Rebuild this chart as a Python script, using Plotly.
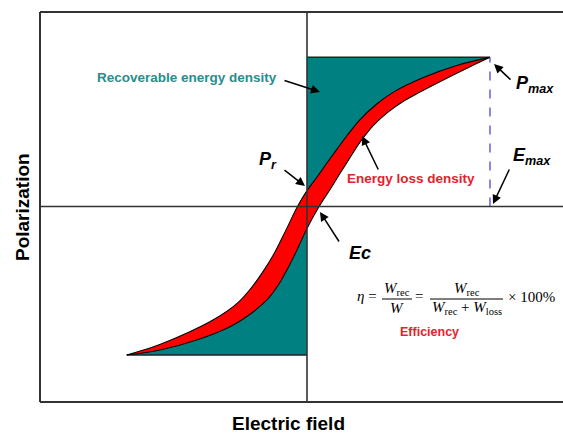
import plotly.graph_objects as go

# ---- data (E normalised to Emax=1, P normalised to Pmax=1) ----
E_MAX = 1.0
P_MAX = 1.0
E_MIN = -0.985
P_MIN = -0.995

# upper (left) boundary of the loss band, from (Emin,Pmin) to (Emax,Pmax)
curve_a_E = [-0.985, -0.842, -0.656, -0.514, -0.380, -0.301, -0.235, -0.178, -0.115, -0.052,
             0.0, 0.055, 0.109, 0.164, 0.219, 0.290, 0.381, 0.472, 0.636, 0.818, 1.0]
curve_a_P = [-0.995, -0.942, -0.848, -0.761, -0.647, -0.540, -0.426, -0.312, -0.158, 0.0,
             0.107, 0.198, 0.292, 0.385, 0.476, 0.583, 0.687, 0.767, 0.865, 0.946, 1.0]

# lower (right) boundary of the loss band
curve_b_E = [-0.985, -0.803, -0.603, -0.421, -0.293, -0.213, -0.153, -0.104, -0.055, 0.0,
             0.066, 0.126, 0.180, 0.235, 0.290, 0.362, 0.443, 0.525, 0.617, 0.745, 0.891, 1.0]
curve_b_P = [-0.995, -0.962, -0.895, -0.806, -0.705, -0.617, -0.519, -0.412, -0.292, -0.147,
             0.0, 0.114, 0.221, 0.328, 0.432, 0.543, 0.633, 0.704, 0.767, 0.848, 0.937, 1.0]

x_range = [-1.459, 1.399]
y_range = [-1.310, 1.304]

TEAL = "#008080"
RED = "#ff0000"
TEAL_TXT = "#2b8c8c"
RED_TXT = "#e3222b"
AX = "#333333"
SANS = "Liberation Sans, Arial, sans-serif"
SERIF = "Liberation Serif, Times New Roman, serif"

W, H = 563, 435
ML, MR, MT, MB = 40, 0, 12, 33


def px(x, y):
    """pixel position -> data coordinates (for placing annotations only)"""
    fx = (x - ML) / (W - ML - MR)
    fy = (H - MB - y) / (H - MT - MB)
    return (x_range[0] + fx * (x_range[1] - x_range[0]),
            y_range[0] + fy * (y_range[1] - y_range[0]))


fig = go.Figure()

# top recoverable area: top edge, then curve A (E>=0) filled to it
a_pos = [i for i, e in enumerate(curve_a_E) if e >= 0]
fig.add_trace(go.Scatter(x=[0, E_MAX], y=[P_MAX, P_MAX], mode="lines",
                         line=dict(color="#222222", width=1.5), hoverinfo="skip"))
fig.add_trace(go.Scatter(x=[curve_a_E[i] for i in a_pos], y=[curve_a_P[i] for i in a_pos],
                         mode="lines", line=dict(width=0, shape="spline"),
                         fill="tonexty", fillcolor=TEAL, hoverinfo="skip"))

# bottom recoverable area
b_neg = [i for i, e in enumerate(curve_b_E) if e <= 0]
fig.add_trace(go.Scatter(x=[E_MIN, 0], y=[P_MIN, P_MIN], mode="lines",
                         line=dict(color="#222222", width=1.5), hoverinfo="skip"))
fig.add_trace(go.Scatter(x=[curve_b_E[i] for i in b_neg], y=[curve_b_P[i] for i in b_neg],
                         mode="lines", line=dict(width=0, shape="spline"),
                         fill="tonexty", fillcolor=TEAL, hoverinfo="skip"))

# loss band
fig.add_trace(go.Scatter(x=curve_a_E, y=curve_a_P, mode="lines",
                         line=dict(color="black", width=1.1, shape="spline"), hoverinfo="skip"))
fig.add_trace(go.Scatter(x=curve_b_E, y=curve_b_P, mode="lines",
                         line=dict(color="black", width=1.1, shape="spline"),
                         fill="tonexty", fillcolor=RED, hoverinfo="skip"))

# dashed Emax line
fig.add_trace(go.Scatter(x=[E_MAX, E_MAX], y=[0, P_MAX], mode="lines",
                         line=dict(color="#3a3ad0", width=1.2, dash="dash"), hoverinfo="skip"))

shapes = [
    dict(type="line", xref="x", yref="paper", x0=0, x1=0, y0=0, y1=1,
         line=dict(color=AX, width=1.6), layer="above"),
    dict(type="line", xref="paper", yref="y", x0=0, x1=1, y0=0, y1=0,
         line=dict(color=AX, width=1.6), layer="above"),
    dict(type="line", xref="paper", yref="paper", x0=0, x1=0, y0=0, y1=1,
         line=dict(color=AX, width=2), layer="above"),
    dict(type="line", xref="paper", yref="paper", x0=0, x1=1, y0=1, y1=1,
         line=dict(color=AX, width=2), layer="above"),
    dict(type="line", xref="paper", yref="paper", x0=0, x1=1, y0=0, y1=0,
         line=dict(color=AX, width=2), layer="above"),
]


def arrow(t, h):
    tx, ty = px(*t)
    hx, hy = px(*h)
    return dict(x=hx, y=hy, ax=tx, ay=ty, xref="x", yref="y", axref="x", ayref="y",
                text="", showarrow=True, arrowhead=2, arrowsize=1.2, arrowwidth=1.5,
                arrowcolor="black")


def label(p, text, size, color="black", family=SANS, xanchor="center"):
    x, y = px(*p)
    return dict(x=x, y=y, xref="x", yref="y", text=text, showarrow=False,
                font=dict(size=size, color=color, family=family), xanchor=xanchor,
                yanchor="middle")


ann = [
    arrow((283, 80), (320, 92)),
    arrow((283, 169), (305, 186)),
    arrow((379, 171), (362, 136)),
    arrow((512, 81), (494, 64)),
    arrow((510, 168), (493, 204)),
    arrow((340, 243), (320, 212)),
    label((187, 77), "<b>Recoverable energy density</b>", 13.5, TEAL_TXT),
    label((268, 160), "<b><i>P<sub>r</sub></i></b>", 18),
    label((411, 178), "<b>Energy loss density</b>", 13.5, RED_TXT),
    label((535, 84), "<b><i>P<sub>max</sub></i></b>", 18),
    label((532, 156), "<b><i>E<sub>max</sub></i></b>", 18),
    label((360, 253), "<b><i>Ec</i></b>", 18),
    label((429, 332), "<b>Efficiency</b>", 12.5, RED_TXT),
    # formula pieces
    label((367, 296), "<i>η</i> =", 15, family=SERIF),
    label((397, 289), "<i>W</i><sub>rec</sub>", 15, family=SERIF),
    label((397, 308), "<i>W</i>", 15, family=SERIF),
    label((419, 296), "=", 15, family=SERIF),
    label((467, 289), "<i>W</i><sub>rec</sub>", 15, family=SERIF),
    label((467, 308), "<i>W</i><sub>rec</sub> + <i>W</i><sub>loss</sub>", 15, family=SERIF),
    label((506, 297), "× 100%", 15, family=SERIF, xanchor="left"),
    # axis titles
    dict(xref="paper", yref="paper", x=0, y=0.5, xshift=-18, xanchor="center",
         yanchor="middle", text="<b>Polarization</b>", textangle=-90, showarrow=False,
         font=dict(size=19, color="black", family=SANS)),
    dict(xref="x", yref="paper", x=px(288, 0)[0], y=0, yshift=-21, xanchor="center",
         yanchor="middle", text="<b>Electric field</b>", showarrow=False,
         font=dict(size=19, color="black", family=SANS)),
]

f1a, fy = px(382, 299)
f1b, _ = px(412, 299)
f2a, _ = px(430, 299)
f2b, _ = px(503, 299)
shapes += [
    dict(type="line", xref="x", yref="y", x0=f1a, x1=f1b, y0=fy, y1=fy,
         line=dict(color="black", width=1)),
    dict(type="line", xref="x", yref="y", x0=f2a, x1=f2b, y0=fy, y1=fy,
         line=dict(color="black", width=1)),
]

fig.update_layout(
    width=W, height=H,
    margin=dict(l=ML, r=MR, t=MT, b=MB),
    paper_bgcolor="white", plot_bgcolor="white",
    showlegend=False,
    xaxis=dict(range=x_range, showgrid=False, zeroline=False, showticklabels=False,
               ticks="", showline=False, fixedrange=True),
    yaxis=dict(range=y_range, showgrid=False, zeroline=False, showticklabels=False,
               ticks="", showline=False, fixedrange=True),
    shapes=shapes,
    annotations=ann,
)

fig.write_html("out.html", config={"displayModeBar": False})
